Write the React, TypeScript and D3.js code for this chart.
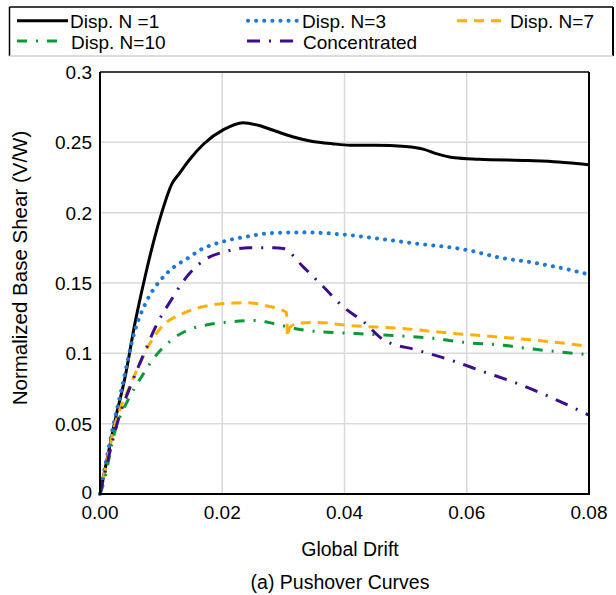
import React from 'react';
import * as d3 from 'd3';

// global drift vs normalized base shear
const dispN1: [number, number][] = [
  [0, 0], [0.0008, 0.017], [0.0025, 0.053], [0.0041, 0.083], [0.0057, 0.121], [0.0074, 0.155],
  [0.0088, 0.18], [0.0101, 0.2], [0.0117, 0.22], [0.013, 0.228], [0.0147, 0.238], [0.017, 0.249],
  [0.0202, 0.259], [0.0234, 0.264], [0.026, 0.262], [0.0289, 0.2577], [0.0315, 0.254],
  [0.0344, 0.251], [0.038, 0.249], [0.0409, 0.248], [0.045, 0.248], [0.05, 0.247], [0.053, 0.245],
  [0.055, 0.242], [0.058, 0.239], [0.062, 0.238], [0.07, 0.237], [0.075, 0.236], [0.08, 0.234],
];
const dispN3: [number, number][] = [
  [0, 0], [0.0005, 0.012], [0.0019, 0.043], [0.0035, 0.074], [0.0057, 0.116], [0.0075, 0.136],
  [0.0097, 0.151], [0.012, 0.161], [0.0145, 0.168], [0.0164, 0.1735], [0.0202, 0.1795], [0.024, 0.183],
  [0.0278, 0.1854], [0.033, 0.186], [0.0409, 0.184], [0.0464, 0.181], [0.0518, 0.178],
  [0.06, 0.1735], [0.0655, 0.168], [0.0709, 0.1645], [0.0791, 0.157], [0.08, 0.156],
];
const dispN7: [number, number][] = [
  [0, 0], [0.0005, 0.01], [0.0025, 0.05], [0.0046, 0.074], [0.0063, 0.0905], [0.0079, 0.105],
  [0.0106, 0.121], [0.0134, 0.128], [0.0183, 0.1344], [0.021, 0.1356], [0.024, 0.136],
  [0.0273, 0.1337], [0.0297, 0.131], [0.0305, 0.129], [0.0307, 0.112], [0.031, 0.118],
  [0.0324, 0.1214], [0.0354, 0.122], [0.0409, 0.1197], [0.0491, 0.1178], [0.0573, 0.1143],
  [0.0655, 0.1115], [0.0736, 0.1083], [0.08, 0.105],
];
const dispN10: [number, number][] = [
  [0, 0], [0.0004, 0.005], [0.0025, 0.0455], [0.0046, 0.067], [0.0068, 0.0834], [0.009, 0.0977],
  [0.0117, 0.1095], [0.0144, 0.1166], [0.0172, 0.12], [0.0207, 0.1221], [0.0256, 0.1233],
  [0.0275, 0.122], [0.03, 0.1195], [0.0327, 0.117], [0.0354, 0.1155], [0.0409, 0.1143],
  [0.0464, 0.113], [0.0545, 0.1107], [0.06, 0.1076], [0.0654, 0.106], [0.0709, 0.103], [0.08, 0.099],
];
const concentrated: [number, number][] = [
  [0, 0], [0.0008, 0.015], [0.003, 0.053], [0.0052, 0.079], [0.0074, 0.102], [0.009, 0.118],
  [0.0118, 0.139], [0.0142, 0.1545], [0.0175, 0.1675], [0.0202, 0.172], [0.0245, 0.175],
  [0.0285, 0.175], [0.03, 0.1745], [0.0332, 0.1617], [0.0365, 0.1475], [0.0398, 0.133],
  [0.0431, 0.1225], [0.0464, 0.1095], [0.0518, 0.1024], [0.0573, 0.0953], [0.0627, 0.087],
  [0.0682, 0.0787], [0.0736, 0.069], [0.08, 0.056],
];

const xTicks = [0, 0.02, 0.04, 0.06, 0.08];
const xTickLabels = ['0.00', '0.02', '0.04', '0.06', '0.08'];
const yTicks = [0, 0.05, 0.1, 0.15, 0.2, 0.25, 0.3];
const yTickLabels = ['0', '0.05', '0.1', '0.15', '0.2', '0.25', '0.3'];

const series = [
  { name: 'Disp. N =1', data: dispN1, color: '#000000', width: 3, dash: '', cap: 'butt', lx: [17, 68], tx: 70, row: 0 },
  { name: 'Disp. N=3', data: dispN3, color: '#1f78d4', width: 4, dash: '0.1 8', cap: 'round', lx: [248, 297], tx: 302, row: 0 },
  { name: 'Disp. N=7', data: dispN7, color: '#ffb000', width: 3, dash: '10 7', cap: 'butt', lx: [457, 508], tx: 510, row: 0 },
  { name: 'Disp. N=10', data: dispN10, color: '#0a9a35', width: 3, dash: '10 9 2 9', cap: 'butt', lx: [17, 63], tx: 71, row: 1 },
  { name: 'Concentrated', data: concentrated, color: '#3c0e8c', width: 3, dash: '13 9 2 9', cap: 'butt', lx: [247, 300], tx: 303, row: 1 },
];

const W = 616, H = 595;
const m = { left: 100, right: 589, top: 72, bottom: 494 };
const font = '"Liberation Sans", Arial, sans-serif';

export default function App() {
  const x = d3.scaleLinear().domain([0, 0.08]).range([m.left, m.right]);
  const y = d3.scaleLinear().domain([0, 0.3]).range([m.bottom, m.top]);
  const line = d3.line<[number, number]>()
    .x(d => x(d[0]))
    .y(d => y(d[1]))
    .curve(d3.curveMonotoneX);

  return (
    <svg width={W} height={H} style={{ position: 'absolute', left: 0, top: 0 }} fontFamily={font}>
      <rect width={W} height={H} fill="white" />

      {/* legend box */}
      <line x1={9.5} y1={7} x2={613} y2={7} stroke="#000" strokeWidth={1.5} />
      <line x1={9.5} y1={7} x2={9.5} y2={56} stroke="#000" strokeWidth={1.5} />
      <line x1={613} y1={7} x2={613} y2={56} stroke="#000" strokeWidth={2} />
      <line x1={9.5} y1={56} x2={613} y2={56} stroke="#d0d0d0" strokeWidth={1.5} />
      {series.map(s => {
        const ly = s.row === 0 ? 20.7 : 41;
        return (
          <g key={s.name}>
            <line x1={s.lx[0]} x2={s.lx[1]} y1={ly} y2={ly} stroke={s.color} strokeWidth={s.width}
              strokeDasharray={s.dash || undefined} strokeLinecap={s.cap as any} />
            <text x={s.tx} y={ly + 7.5} fontSize={19} fill="#000">{s.name}</text>
          </g>
        );
      })}

      {/* gridlines */}
      {xTicks.slice(1, -1).map(t => (
        <line key={'gx' + t} x1={x(t)} x2={x(t)} y1={m.top} y2={m.bottom} stroke="#d9d9d9" strokeWidth={1.5} />
      ))}
      {yTicks.slice(1, -1).map(t => (
        <line key={'gy' + t} x1={m.left} x2={m.right} y1={y(t)} y2={y(t)} stroke="#d9d9d9" strokeWidth={1.5} />
      ))}

      {/* curves */}
      {series.map(s => (
        <path key={'p' + s.name} d={line(s.data) || ''} fill="none" stroke={s.color} strokeWidth={s.width}
          strokeDasharray={s.dash || undefined} strokeLinecap={s.cap as any} strokeLinejoin="round" />
      ))}

      {/* frame */}
      <line x1={m.left} x2={m.right} y1={m.top} y2={m.top} stroke="#404040" strokeWidth={2} />
      <line x1={m.right} x2={m.right} y1={m.top} y2={m.bottom} stroke="#000" strokeWidth={2} />
      <line x1={m.left} x2={m.left} y1={m.top} y2={m.bottom + 1} stroke="#000" strokeWidth={2} />
      <line x1={m.left - 1} x2={m.right + 1} y1={m.bottom} y2={m.bottom} stroke="#000" strokeWidth={2} />

      {/* tick labels */}
      {xTicks.map((t, i) => (
        <text key={'tx' + t} x={x(t)} y={519} textAnchor="middle" fontSize={19} fill="#000">{xTickLabels[i]}</text>
      ))}
      {yTicks.map((t, i) => (
        <text key={'ty' + t} x={92} y={t === 0 ? y(t) + 5 : y(t) + 7} textAnchor="end" fontSize={19} fill="#000">{yTickLabels[i]}</text>
      ))}

      {/* titles */}
      <text x={350} y={556} textAnchor="middle" fontSize={19.5} fill="#000">Global Drift</text>
      <text transform="translate(27,268) rotate(-90)" textAnchor="middle" fontSize={20.5} fill="#000">Normalized Base Shear (V/W)</text>
      <text x={340} y={589} textAnchor="middle" fontSize={19.5} fill="#000">(a) Pushover Curves</text>
    </svg>
  );
}
